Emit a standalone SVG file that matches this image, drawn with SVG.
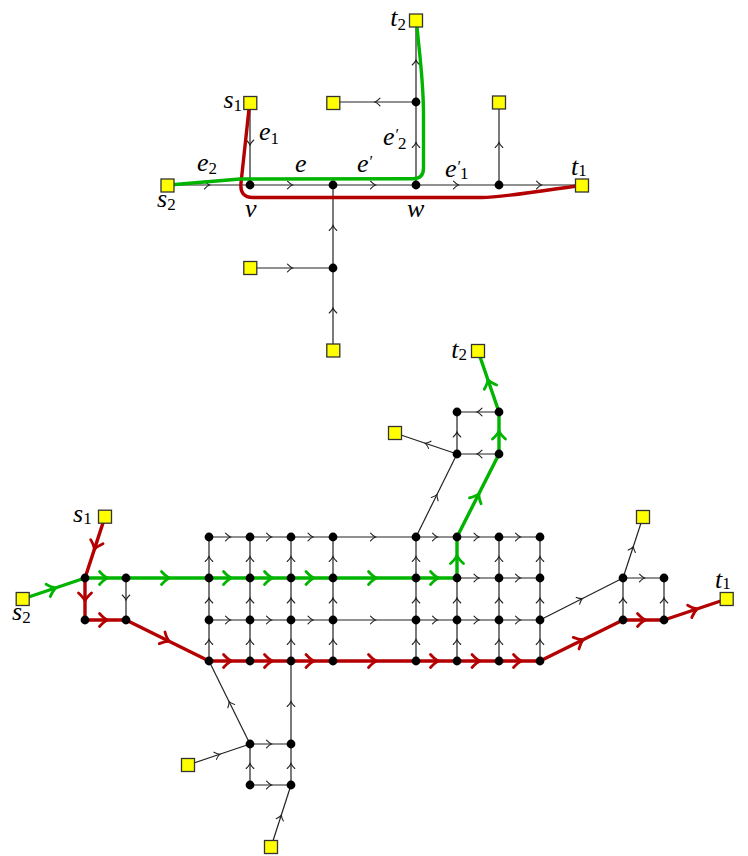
<svg xmlns="http://www.w3.org/2000/svg" width="748" height="856" viewBox="0 0 748 856">
<style>
.e{fill:none;stroke:#222;stroke-width:1.2;marker-mid:url(#a)}
.g{fill:none;stroke:#00b400;stroke-width:3.4;stroke-linecap:round;stroke-linejoin:round}
.r{fill:none;stroke:#b40000;stroke-width:3.4;stroke-linecap:round;stroke-linejoin:round}
.gm{marker-mid:url(#ag)}
.rm{marker-mid:url(#ar)}
.sq{fill:#ffff00;stroke:#333;stroke-width:1.3}
.n{fill:#000}
.lb{font-family:'Liberation Serif','Times New Roman','DejaVu Serif',serif;font-style:italic;font-size:26px;fill:#000}
.sb{font-style:normal;font-size:17px}
.pr{font-style:normal;font-size:16px}
</style>
<defs>
<marker id="a" markerUnits="userSpaceOnUse" viewBox="-8 -8 16 16" markerWidth="16" markerHeight="16" refX="0" refY="0" orient="auto">
<path d="M-4 -3.8 Q-1.3 -0.9 1 0 Q-1.3 0.9 -4 3.8" fill="none" stroke="#222" stroke-width="1.1" stroke-linecap="round"/>
</marker>
<marker id="ag" markerUnits="userSpaceOnUse" viewBox="-10 -10 20 20" markerWidth="20" markerHeight="20" refX="0" refY="0" orient="auto">
<path d="M-6 -6.5 Q-1.5 -1.5 2 0 Q-1.5 1.5 -6 6.5" fill="none" stroke="#00b400" stroke-width="2.8" stroke-linecap="round" stroke-linejoin="round"/>
</marker>
<marker id="ar" markerUnits="userSpaceOnUse" viewBox="-10 -10 20 20" markerWidth="20" markerHeight="20" refX="0" refY="0" orient="auto">
<path d="M-6 -6.5 Q-1.5 -1.5 2 0 Q-1.5 1.5 -6 6.5" fill="none" stroke="#b40000" stroke-width="2.8" stroke-linecap="round" stroke-linejoin="round"/>
</marker>
</defs>

<g id="connectors">
<!-- top diagram edges -->
<path class="e" d="M167.5 185L208.5 185L250 185"/>
<path class="e" d="M250 103L250 144L250 185"/>
<path class="e" d="M250 185L291.5 185L333 185"/>
<path class="e" d="M333 185L374.5 185L416 185"/>
<path class="e" d="M416 185L457.5 185L499 185"/>
<path class="e" d="M499 185L540.5 185L582 185"/>
<path class="e" d="M416 185L416 143.5L416 102"/>
<path class="e" d="M416 102L416 61L416 20.5"/>
<path class="e" d="M416 102L376 102L333 102"/>
<path class="e" d="M499 185L499 143.5L499 102.5"/>
<path class="e" d="M333 268L333 226.5L333 185"/>
<path class="e" d="M250 268L291.5 268L333 268"/>
<path class="e" d="M333 350.5L333 309L333 268"/>
<!-- top diagram paths -->
<path class="r" d="M249 109L241 183Q239.5 197.5 253 197.5L482 197.5C500 197.5 510 195 577 186"/>
<path class="g" d="M175 184.5L240 179L413 178.7Q423.5 178.7 423.5 168L423.5 115C423.5 80 419 50 417 27"/>

<!-- bottom grid rows -->
<path class="e" d="M209 537L229.5 537L250 537"/>
<path class="e" d="M250 537L270.5 537L291 537"/>
<path class="e" d="M291 537L312 537L333 537"/>
<path class="e" d="M333 537L374.5 537L416 537"/>
<path class="e" d="M416 537L436.5 537L457 537"/>
<path class="e" d="M457 537L478 537L499 537"/>
<path class="e" d="M499 537L519.5 537L540 537"/>
<path class="e" d="M209 620L229.5 620L250 620"/>
<path class="e" d="M250 620L270.5 620L291 620"/>
<path class="e" d="M291 620L312 620L333 620"/>
<path class="e" d="M333 620L374.5 620L416 620"/>
<path class="e" d="M416 620L436.5 620L457 620"/>
<path class="e" d="M457 620L478 620L499 620"/>
<path class="e" d="M499 620L519.5 620L540 620"/>
<path class="e" d="M457 578L478 578L499 578"/>
<path class="e" d="M499 578L519.5 578L540 578"/>
<!-- bottom grid columns -->
<path class="e" d="M209 661L209 640.5L209 620"/>
<path class="e" d="M209 620L209 599L209 578"/>
<path class="e" d="M209 578L209 557.5L209 537"/>
<path class="e" d="M250 661L250 640.5L250 620"/>
<path class="e" d="M250 620L250 599L250 578"/>
<path class="e" d="M250 578L250 557.5L250 537"/>
<path class="e" d="M291 661L291 640.5L291 620"/>
<path class="e" d="M291 620L291 599L291 578"/>
<path class="e" d="M291 578L291 557.5L291 537"/>
<path class="e" d="M333 661L333 640.5L333 620"/>
<path class="e" d="M333 620L333 599L333 578"/>
<path class="e" d="M333 578L333 557.5L333 537"/>
<path class="e" d="M416 661L416 640.5L416 620"/>
<path class="e" d="M416 620L416 599L416 578"/>
<path class="e" d="M416 578L416 557.5L416 537"/>
<path class="e" d="M457 661L457 640.5L457 620"/>
<path class="e" d="M457 620L457 599L457 578"/>
<path class="e" d="M499 661L499 640.5L499 620"/>
<path class="e" d="M499 620L499 599L499 578"/>
<path class="e" d="M499 578L499 557.5L499 537"/>
<path class="e" d="M540 661L540 640.5L540 620"/>
<path class="e" d="M540 620L540 599L540 578"/>
<path class="e" d="M540 578L540 557.5L540 537"/>
<!-- bottom others -->
<path class="e" d="M126 578L126 599L126 620"/>
<path class="e" d="M416 537L436.5 495.5L457 454"/>
<path class="e" d="M457 454L457 433L457 412"/>
<path class="e" d="M457 454L426 443.5L395 433"/>
<path class="e" d="M499 454L478 454L457 454"/>
<path class="e" d="M499 412L478 412L457 412"/>
<path class="e" d="M540 620L581.5 599L623 578"/>
<path class="e" d="M623 578L633 547.5L643 517"/>
<path class="e" d="M623 578L643.5 578L664 578"/>
<path class="e" d="M623 620L623 599L623 578"/>
<path class="e" d="M664 620L664 599L664 578"/>
<path class="e" d="M250 744L229.5 702.5L209 661"/>
<path class="e" d="M188 765L219 754.5L250 744"/>
<path class="e" d="M250 744L270.5 744L291 744"/>
<path class="e" d="M291 744L291 702.5L291 661"/>
<path class="e" d="M250 785L250 764.5L250 744"/>
<path class="e" d="M250 785L270.5 785L291 785"/>
<path class="e" d="M291 785L291 764.5L291 744"/>
<path class="e" d="M271 847L281 816L291 785"/>
<!-- bottom green path -->
<path class="g gm" d="M22.7 599L53.85 588.5L85 578"/>
<path class="g gm" d="M85 578L105.5 578L126 578"/>
<path class="g gm" d="M126 578L167.5 578L209 578"/>
<path class="g gm" d="M209 578L229.5 578L250 578"/>
<path class="g gm" d="M250 578L270.5 578L291 578"/>
<path class="g gm" d="M291 578L312 578L333 578"/>
<path class="g gm" d="M333 578L374.5 578L416 578"/>
<path class="g gm" d="M416 578L436.5 578L457 578"/>
<path class="g gm" d="M457 578L457 557.5L457 537"/>
<path class="g gm" d="M457 537L478 495.5L499 454"/>
<path class="g gm" d="M499 454L499 433L499 412"/>
<path class="g gm" d="M499 412L488.5 381.5L478 351"/>
<!-- bottom red path -->
<path class="r rm" d="M105 516.7L95 547.35L85 578"/>
<path class="r rm" d="M85 578L85 599L85 620"/>
<path class="r rm" d="M85 620L105.5 620L126 620"/>
<path class="r rm" d="M126 620L167.5 640.5L209 661"/>
<path class="r rm" d="M209 661L229.5 661L250 661"/>
<path class="r rm" d="M250 661L270.5 661L291 661"/>
<path class="r rm" d="M291 661L312 661L333 661"/>
<path class="r rm" d="M333 661L374.5 661L416 661"/>
<path class="r rm" d="M416 661L436.5 661L457 661"/>
<path class="r rm" d="M457 661L478 661L499 661"/>
<path class="r rm" d="M499 661L519.5 661L540 661"/>
<path class="r rm" d="M540 661L581.5 640.5L623 620"/>
<path class="r rm" d="M623 620L643.5 620L664 620"/>
<path class="r rm" d="M664 620L695.35 609.5L726.7 599"/>
</g>

<g id="top-nodes">
<circle id="v" class="n" cx="250" cy="185" r="4.4"/>
<circle id="u1" class="n" cx="333" cy="185" r="4.4"/>
<circle id="w" class="n" cx="416" cy="185" r="4.4"/>
<circle id="u2" class="n" cx="499" cy="185" r="4.4"/>
<circle id="u3" class="n" cx="416" cy="102" r="4.4"/>
<circle id="u4" class="n" cx="333" cy="268" r="4.4"/>
</g>
<g id="top-terminals">
<rect id="t2a" class="sq" x="409.5" y="14" width="13" height="13"/>
<rect id="s1a" class="sq" x="243.8" y="96.5" width="13" height="13"/>
<rect id="q1" class="sq" x="326.8" y="96.5" width="13" height="13"/>
<rect id="q2" class="sq" x="492.5" y="96" width="13" height="13"/>
<rect id="s2a" class="sq" x="161" y="179" width="13" height="13"/>
<rect id="t1a" class="sq" x="575.5" y="179" width="13" height="13"/>
<rect id="q3" class="sq" x="243.8" y="261.5" width="13" height="13"/>
<rect id="q4" class="sq" x="326.8" y="344" width="13" height="13"/>
</g>
<g id="top-labels">
<text class="lb" x="406" y="26" text-anchor="end">t<tspan class="sb" dy="3.5">2</tspan></text>
<text class="lb" x="242" y="108" text-anchor="end">s<tspan class="sb" dy="3">1</tspan></text>
<text class="lb" x="259" y="140">e<tspan class="sb" dy="3.5">1</tspan></text>
<text class="lb" x="197" y="171">e<tspan class="sb" dy="3">2</tspan></text>
<text class="lb" x="295" y="172">e</text>
<text class="lb" x="357" y="172">e<tspan class="pr" dx="1" dy="-5">′</tspan></text>
<text class="lb" x="383" y="145">e<tspan class="pr" dx="1" dy="-5">′</tspan><tspan class="sb" dx="-1" dy="9">2</tspan></text>
<text class="lb" x="445" y="177">e<tspan class="pr" dx="1" dy="-5">′</tspan><tspan class="sb" dx="-1" dy="7">1</tspan></text>
<text class="lb" x="571" y="175">t<tspan class="sb" dy="1">1</tspan></text>
<text class="lb" x="157" y="207">s<tspan class="sb" dy="3">2</tspan></text>
<text class="lb" x="245" y="217">v</text>
<text class="lb" x="407" y="217">w</text>
</g>

<g id="bottom-nodes">
<circle class="n" cx="209" cy="537" r="4.4"/><circle class="n" cx="250" cy="537" r="4.4"/><circle class="n" cx="291" cy="537" r="4.4"/><circle class="n" cx="333" cy="537" r="4.4"/><circle class="n" cx="416" cy="537" r="4.4"/><circle class="n" cx="457" cy="537" r="4.4"/><circle class="n" cx="499" cy="537" r="4.4"/><circle class="n" cx="540" cy="537" r="4.4"/>
<circle class="n" cx="209" cy="578" r="4.4"/><circle class="n" cx="250" cy="578" r="4.4"/><circle class="n" cx="291" cy="578" r="4.4"/><circle class="n" cx="333" cy="578" r="4.4"/><circle class="n" cx="416" cy="578" r="4.4"/><circle class="n" cx="457" cy="578" r="4.4"/><circle class="n" cx="499" cy="578" r="4.4"/><circle class="n" cx="540" cy="578" r="4.4"/>
<circle class="n" cx="209" cy="620" r="4.4"/><circle class="n" cx="250" cy="620" r="4.4"/><circle class="n" cx="291" cy="620" r="4.4"/><circle class="n" cx="333" cy="620" r="4.4"/><circle class="n" cx="416" cy="620" r="4.4"/><circle class="n" cx="457" cy="620" r="4.4"/><circle class="n" cx="499" cy="620" r="4.4"/><circle class="n" cx="540" cy="620" r="4.4"/>
<circle class="n" cx="209" cy="661" r="4.4"/><circle class="n" cx="250" cy="661" r="4.4"/><circle class="n" cx="291" cy="661" r="4.4"/><circle class="n" cx="333" cy="661" r="4.4"/><circle class="n" cx="416" cy="661" r="4.4"/><circle class="n" cx="457" cy="661" r="4.4"/><circle class="n" cx="499" cy="661" r="4.4"/><circle class="n" cx="540" cy="661" r="4.4"/>
<circle class="n" cx="85" cy="578" r="4.4"/><circle class="n" cx="126" cy="578" r="4.4"/><circle class="n" cx="85" cy="620" r="4.4"/><circle class="n" cx="126" cy="620" r="4.4"/>
<circle class="n" cx="457" cy="412" r="4.4"/><circle class="n" cx="499" cy="412" r="4.4"/><circle class="n" cx="457" cy="454" r="4.4"/><circle class="n" cx="499" cy="454" r="4.4"/>
<circle class="n" cx="623" cy="578" r="4.4"/><circle class="n" cx="664" cy="578" r="4.4"/><circle class="n" cx="623" cy="620" r="4.4"/><circle class="n" cx="664" cy="620" r="4.4"/>
<circle class="n" cx="250" cy="744" r="4.4"/><circle class="n" cx="291" cy="744" r="4.4"/><circle class="n" cx="250" cy="785" r="4.4"/><circle class="n" cx="291" cy="785" r="4.4"/>
</g>
<g id="bottom-terminals">
<rect id="s1b" class="sq" x="98.5" y="510.2" width="13" height="13"/>
<rect id="s2b" class="sq" x="16.2" y="592.5" width="13" height="13"/>
<rect id="t2b" class="sq" x="471.5" y="344.5" width="13" height="13"/>
<rect id="q5" class="sq" x="388.5" y="426.5" width="13" height="13"/>
<rect id="q6" class="sq" x="636.5" y="510.5" width="13" height="13"/>
<rect id="t1b" class="sq" x="720.2" y="592.5" width="13" height="13"/>
<rect id="q7" class="sq" x="181.5" y="758.5" width="13" height="13"/>
<rect id="q8" class="sq" x="264.5" y="840.5" width="13" height="13"/>
</g>
<g id="bottom-labels">
<text class="lb" x="73" y="521.5">s<tspan class="sb" dy="2.5">1</tspan></text>
<text class="lb" x="12" y="620">s<tspan class="sb" dy="2.5">2</tspan></text>
<text class="lb" x="467" y="358" text-anchor="end">t<tspan class="sb" dy="2">2</tspan></text>
<text class="lb" x="715" y="588">t<tspan class="sb" dy="1">1</tspan></text>
</g>
</svg>
